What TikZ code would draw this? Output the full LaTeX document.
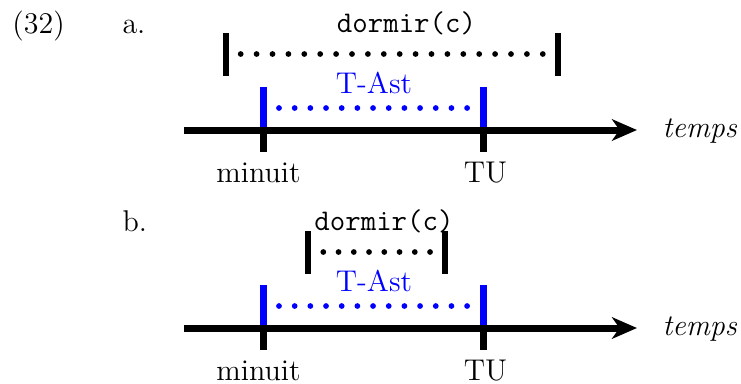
\documentclass[12pt,tikz,border=0pt]{standalone}
\usetikzlibrary{positioning}
\usetikzlibrary{arrows.meta}
\tikzset{
    axis/.style = {line width=2.8pt,-{Stealth[length=10pt,width=8.6pt,inset=3pt]}},
    bar/.style = {line width=2.5pt},
    barb/.style = {line width=2.7pt,blue},
    dots/.style = {line width=2.3pt,line cap=round,dash pattern=on 0pt off #1},
    dotsb/.style = {dots=#1,blue},
    lab/.style = {anchor=base,inner sep=0pt},
}

\begin{document}
\begin{tikzpicture}[x=0.4pt,y=-0.4pt]
  \useasboundingbox (0,0) rectangle (741,383);

  \node[lab,anchor=base west] (num) at (12,33) {(32)};

  % one timeline per case: name/shift/left bar/right bar/first dot/last dot/label/spacing
  \foreach \p/\dy/\l/\r/\dl/\dr/\dx/\sp in {a/0/226/558/240.7/544.5/406.5/6.36pt,
                                            b/198/308/445/323.3/432/384/6.1pt}{
  \begin{scope}[shift={(0,\dy)}]
    \node[lab,anchor=base west] (case\p) at (122,33) {\p.};
    % T-Ast
    \coordinate (mn\p) at (263.5,130);
    \coordinate (tu\p) at (483.5,130);
    \coordinate (bl\p) at (263.5,87);
    \coordinate (br\p) at (483.5,87);
    \draw[barb] (bl\p) -- (mn\p);
    \draw[barb] (br\p) -- (tu\p);
    \coordinate (tl\p) at (279,108);
    \coordinate (tr\p) at (469,108);
    \draw[dotsb=6.27pt] (tl\p) -- (tr\p);
    \node[lab,blue] (tast\p) at (374,93) {T-Ast};
    % axis
    \coordinate (ax\p) at (184,130);
    \coordinate (tip\p) at (637,130);
    \draw[axis] (ax\p) -- (tip\p);
    \node[lab,anchor=base west] (tps\p) at (662,137) {\textit{temps}};
    \coordinate (mnb\p) at (263.5,152);
    \coordinate (tub\p) at (483.5,152);
    \draw[bar] (mn\p) -- (mnb\p);
    \draw[bar] (tu\p) -- (tub\p);
    \node[lab] (lmn\p) at (258.5,182) {minuit};
    \node[lab] (ltu\p) at (485.5,182) {TU};
    % dormir(c)
    \coordinate (dt\p) at (\l,33);
    \coordinate (db\p) at (\l,76);
    \coordinate (et\p) at (\r,33);
    \coordinate (eb\p) at (\r,76);
    \draw[bar] (dt\p) -- (db\p);
    \draw[bar] (et\p) -- (eb\p);
    \coordinate (ds\p) at (\dl,54);
    \coordinate (de\p) at (\dr,54);
    \draw[dots=\sp] (ds\p) -- (de\p);
    \node[lab] (dorm\p) at (\dx,32) {\texttt{dormir(c)}};
  \end{scope}
  }
\end{tikzpicture}
\end{document}
